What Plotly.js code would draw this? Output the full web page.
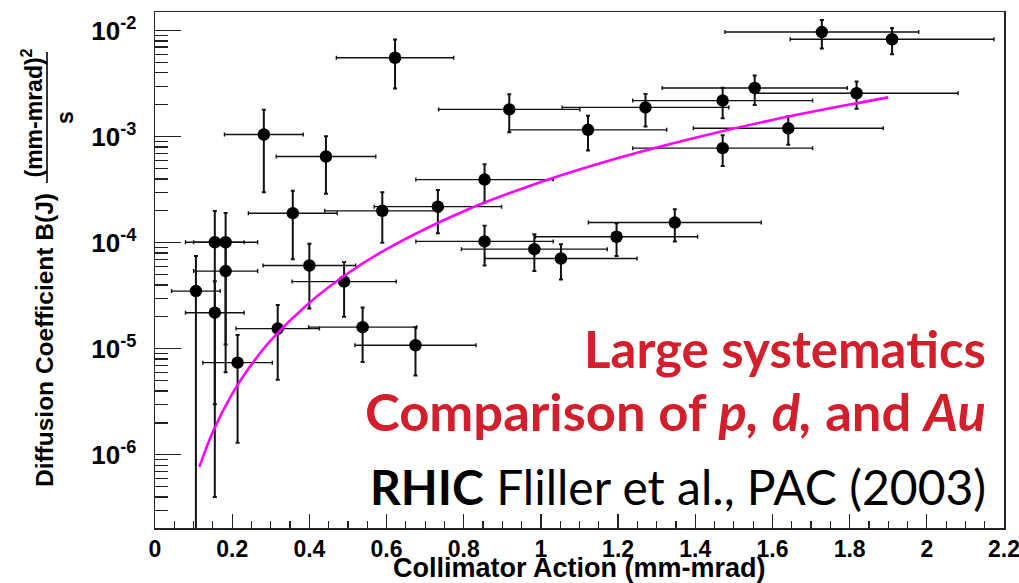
<!DOCTYPE html>
<html>
<head>
<meta charset="utf-8">
<script src="https://cdn.plot.ly/plotly-3.0.1.min.js"></script>
<style>html,body{margin:0;padding:0;background:#fff;}#chart{width:1019px;height:583px;}</style>
</head>
<body>
<div id="chart"></div>
<script>
// ---- data ----
const actionX = [0.106, 0.155, 0.155, 0.183, 0.183, 0.214, 0.282, 0.318, 0.357, 0.400, 0.443, 0.490, 0.538, 0.589, 0.622, 0.675, 0.733, 0.854, 0.854, 0.918, 0.983, 1.052, 1.122, 1.196, 1.271, 1.347, 1.471, 1.471, 1.554, 1.641, 1.728, 1.818, 1.910];
const actionErr = [0.063, 0.076, 0.076, 0.083, 0.083, 0.090, 0.102, 0.108, 0.115, 0.120, 0.129, 0.135, 0.140, 0.149, 0.152, 0.157, 0.165, 0.178, 0.178, 0.183, 0.189, 0.197, 0.204, 0.210, 0.216, 0.224, 0.233, 0.233, 0.240, 0.246, 0.251, 0.263, 0.264];
const diffB = [3.5e-5, 1.01e-4, 2.19e-5, 1.01e-4, 5.4e-5, 7.4e-6, 1.05e-3, 1.55e-5, 1.9e-4, 6.1e-5, 6.5e-4, 4.3e-5, 1.6e-5, 2.0e-4, 5.55e-3, 1.08e-5, 2.19e-4, 3.94e-4, 1.03e-4, 1.81e-3, 8.7e-5, 7.1e-5, 1.16e-3, 1.14e-4, 1.89e-3, 1.55e-4, 2.19e-3, 7.8e-4, 2.88e-3, 1.2e-3, 9.7e-3, 2.57e-3, 8.3e-3];
const diffBErr = [4.0e-5, 0.98e-4, 2.15e-5, 0.9e-4, 4.8e-5, 6.1e-6, 7.5e-4, 1.04e-5, 1.2e-4, 3.7e-5, 3.6e-4, 2.3e-5, 8.5e-6, 1.0e-4, 2.7e-3, 5.2e-6, 0.96e-4, 1.55e-4, 4.2e-5, 7.1e-4, 3.3e-5, 2.6e-5, 4.2e-4, 3.9e-5, 6.4e-4, 5.2e-5, 7.0e-4, 2.5e-4, 8.9e-4, 3.6e-4, 2.9e-3, 7.4e-4, 2.3e-3];

const fitX = [0.115, 0.15, 0.2, 0.25, 0.3, 0.4, 0.5, 0.6, 0.8, 1.0, 1.2, 1.4, 1.6, 1.8, 1.9];
const fitY = [7.7e-7, 1.65e-6, 3.75e-6, 7.1e-6, 1.2e-5, 2.72e-5, 5.16e-5, 8.7e-5, 1.98e-4, 3.74e-4, 6.3e-4, 9.8e-4, 1.44e-3, 2.01e-3, 2.35e-3];

const xTickVals = [0, 0.2, 0.4, 0.6, 0.8, 1, 1.2, 1.4, 1.6, 1.8, 2, 2.2];
const xTickText = ["0", "0.2", "0.4", "0.6", "0.8", "1", "1.2", "1.4", "1.6", "1.8", "2", "2.2"];
const yTickVals = [1e-6, 1e-5, 1e-4, 1e-3, 1e-2];
const yTickText = ["10<sup>-6</sup>", "10<sup>-5</sup>", "10<sup>-4</sup>", "10<sup>-3</sup>", "10<sup>-2</sup>"];

const xTitle = "Collimator Action (mm-mrad)";
const yTitle = "Diffusion Coefficient B(J)";
const yUnitNum = "(mm-mrad)<sup>2</sup>";
const yUnitDen = "s";
const note1 = "Large systematics";
const note2 = "Comparison of <i>p,</i> <i>d,</i> and <i>Au</i>";
const note3 = "<b>RHIC</b> Fliller et al., PAC (2003)";

// ---- chart ----
const sans = "Liberation Sans, Arial, sans-serif";
const human = "Lato, Open Sans, sans-serif";
const red = "#d21f2b";

const minorY = [];
for (let d = -7; d <= -2; d++) {
  for (let k = 2; k <= 9; k++) minorY.push(k * Math.pow(10, d));
}

const traces = [
  {
    x: actionX, y: diffB, type: "scatter", mode: "markers",
    marker: {color: "black", size: 12.5, symbol: "circle"},
    error_x: {type: "data", array: actionErr, visible: true, color: "#111", thickness: 1.4, width: 2},
    error_y: {type: "data", array: diffBErr, visible: true, color: "#111", thickness: 2, width: 2},
    hoverinfo: "skip", showlegend: false
  },
  {
    x: fitX, y: fitY, type: "scatter", mode: "lines",
    line: {color: "#ff00ff", width: 2.6, shape: "spline"},
    hoverinfo: "skip", showlegend: false
  }
];

const layout = {
  width: 1019, height: 583,
  margin: {l: 155, r: 15, t: 12, b: 55},
  paper_bgcolor: "white", plot_bgcolor: "white",
  showlegend: false,
  xaxis: {
    range: [0, 2.2], showgrid: false, zeroline: false,
    showline: true, mirror: true, linecolor: "#222", linewidth: 1.5,
    ticks: "inside", ticklen: 14, tickwidth: 1.2, tickcolor: "#222",
    tickmode: "array", tickvals: xTickVals, ticktext: xTickText,
    minor: {ticks: "inside", ticklen: 7, tickwidth: 1.2, tickcolor: "#222", dtick: 0.05, tick0: 0, showgrid: false},
    tickfont: {family: sans, size: 23, color: "black", weight: "bold"},
    ticklabelstandoff: 0,
    ticklabeloverflow: "allow"
  },
  yaxis: {
    type: "log", range: [-6.69, -1.824], showgrid: false, zeroline: false,
    showline: true, mirror: true, linecolor: "#222", linewidth: 1.5,
    ticks: "inside", ticklen: 26, tickwidth: 1.2, tickcolor: "#222",
    tickmode: "array", tickvals: yTickVals, ticktext: yTickText,
    minor: {ticks: "inside", ticklen: 13, tickwidth: 1.2, tickcolor: "#222", tickmode: "array", tickvals: minorY, showgrid: false},
    tickfont: {family: sans, size: 26, color: "black", weight: "bold"},
    ticklabelstandoff: 12,
    ticklabeloverflow: "allow"
  },
  shapes: [
    {type: "line", xref: "paper", yref: "paper", x0: -0.1272, x1: -0.1272, y0: 0.6686, y1: 0.9225,
     line: {color: "black", width: 1.6}}
  ],
  annotations: [
    {xref: "paper", yref: "paper", x: 0.5, y: -0.077, xanchor: "center", yanchor: "middle",
     text: "<b>" + xTitle + "</b>", showarrow: false, font: {family: sans, size: 27, color: "black"}},
    {xref: "paper", yref: "paper", x: -0.1307, y: 0.3643, xanchor: "center", yanchor: "middle",
     text: "<b>" + yTitle + "</b>", textangle: -90, showarrow: false, font: {family: sans, size: 24.5, color: "black"}},
    {xref: "paper", yref: "paper", x: -0.1450, y: 0.8050, xanchor: "center", yanchor: "middle",
     text: "<b>" + yUnitNum + "</b>", textangle: -90, showarrow: false, font: {family: sans, size: 23, color: "black"}},
    {xref: "paper", yref: "paper", x: -0.1060, y: 0.7946, xanchor: "center", yanchor: "middle",
     text: "<b>" + yUnitDen + "</b>", textangle: -90, showarrow: false, font: {family: sans, size: 23, color: "black"}},
    {xref: "paper", yref: "paper", x: 0.981, y: 0.347, xanchor: "right", yanchor: "middle",
     text: "<b>" + note1 + "</b>", showarrow: false, font: {family: human, size: 51, color: red}},
    {xref: "paper", yref: "paper", x: 0.981, y: 0.228, xanchor: "right", yanchor: "middle",
     text: "<b>" + note2 + "</b>", showarrow: false, font: {family: human, size: 52.5, color: red}},
    {xref: "paper", yref: "paper", x: 0.981, y: 0.080, xanchor: "right", yanchor: "middle",
     text: note3, showarrow: false, font: {family: human, size: 48, color: "black"}}
  ]
};

Plotly.newPlot("chart", traces, layout, {staticPlot: true, displayModeBar: false});
</script>
</body>
</html>
